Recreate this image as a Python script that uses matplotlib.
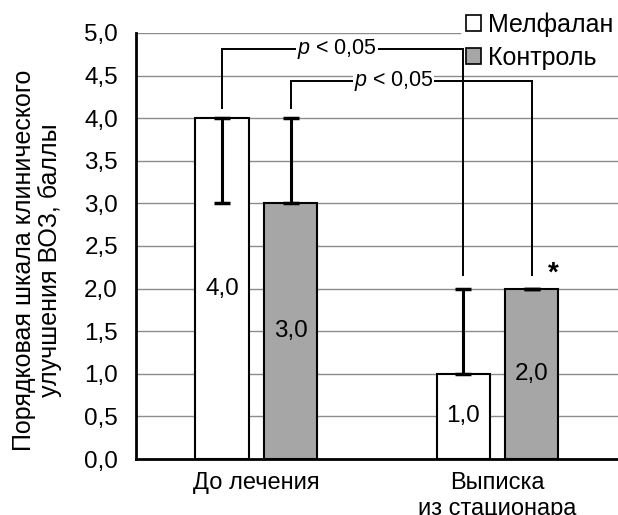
import numpy as np
import matplotlib
matplotlib.use("Agg")
import matplotlib.pyplot as plt
from matplotlib.patches import Patch

plt.rcParams['font.family'] = ['Liberation Sans', 'DejaVu Sans']
plt.rcParams['mathtext.fontset'] = 'custom'
plt.rcParams['mathtext.it'] = 'Liberation Sans:italic'
plt.rcParams['mathtext.rm'] = 'Liberation Sans'

# data
categories = ["До лечения", "Выписка\nиз стационара"]
groups = ["Мелфалан", "Контроль"]
melphalan = [4.0, 1.0]
control = [3.0, 2.0]
melphalan_err_low = [1.0, 0.0]
melphalan_err_high = [0.0, 1.0]
control_err_low = [0.0, 0.0]
control_err_high = [1.0, 0.0]
value_labels_mel = ["4,0", "1,0"]
value_labels_ctl = ["3,0", "2,0"]
yticks = [0.0, 0.5, 1.0, 1.5, 2.0, 2.5, 3.0, 3.5, 4.0, 4.5, 5.0]

FS = 17.5

fig = plt.figure(figsize=(6.18, 5.15), dpi=100)
ax = fig.add_axes([0.22, 0.1087, 0.78, 0.8273])

x = np.arange(len(categories))
w = 0.22
off = 0.143

# gridlines; the top one stops where the legend sits
for t in yticks[1:]:
    xmax = (460 - 136) / 482 if t == 5.0 else 1.0
    ax.axhline(t, xmax=xmax, color="#8c8c8c", lw=1, zorder=0)

ax.bar(x - off, melphalan, w, color="white", edgecolor="black", linewidth=1.5, zorder=3)
ax.bar(x + off, control, w, color="#a6a6a6", edgecolor="black", linewidth=1.5, zorder=3)

ax.errorbar(x - off, melphalan, yerr=[melphalan_err_low, melphalan_err_high],
            fmt="none", ecolor="black", elinewidth=2.2, capsize=5.5, capthick=2.5, zorder=4)
ax.errorbar(x + off, control, yerr=[control_err_low, control_err_high],
            fmt="none", ecolor="black", elinewidth=2.2, capsize=5.5, capthick=2.5, zorder=4)

for i in range(len(categories)):
    ax.text(x[i] - off, melphalan[i] / 2, value_labels_mel[i], ha="center", va="center",
            fontsize=FS, zorder=5)
    ax.text(x[i] + off, control[i] / 2, value_labels_ctl[i], ha="center", va="center",
            fontsize=FS, zorder=5)

# significance brackets
def bracket(x1, x2, y1, y_top, y2, xt):
    ax.plot([x1, x1, x2, x2], [y1, y_top, y_top, y2], color="black", lw=1.4, zorder=5,
            solid_joinstyle="miter")
    ax.text(xt, y_top, "$p$ < 0,05", ha="center", va="center", fontsize=15.5, zorder=6,
            bbox=dict(facecolor="white", edgecolor="none", pad=0.5))

bracket(x[0] - off, x[1] - off, 4.12, 4.81, 2.16, 0.334)
bracket(x[0] + off, x[1] + off, 4.12, 4.44, 2.16, 0.57)

ax.text(x[1] + off + 0.09, 2.17, "*", ha="center", va="center", fontsize=20,
        fontweight="bold", zorder=6)

ax.set_xlim(-0.5, 1.5)
ax.set_ylim(0, 5.0)
ax.set_yticks(yticks)
ax.set_yticklabels([f"{t:.1f}".replace(".", ",") for t in yticks], fontsize=FS)
ax.set_xticks(x)
ax.set_xticklabels(categories, fontsize=17, linespacing=1.25)
ax.tick_params(axis="both", length=0)
ax.tick_params(axis="x", pad=9)
ax.tick_params(axis="y", pad=13)
for s in ["right", "top"]:
    ax.spines[s].set_visible(False)
ax.spines["bottom"].set_linewidth(2)
ax.spines["left"].set_linewidth(2)
ax.spines["bottom"].set_zorder(6)

fig.text(37 / 618, 1 - 260 / 515, "Порядковая шкала клинического\nулучшения ВОЗ, баллы",
         fontsize=18, rotation=90, ha="center", va="center", linespacing=1.15,
         multialignment="center")

handles = [Patch(facecolor="white", edgecolor="black", lw=1.2),
           Patch(facecolor="#a6a6a6", edgecolor="black", lw=1.2)]
leg = fig.legend(handles, groups, loc="upper right", bbox_to_anchor=(1.0, 0.985),
                 fontsize=18, frameon=False, handlelength=0.6, handleheight=0.6,
                 handletextpad=0.25, labelspacing=0.35, borderpad=0.2, borderaxespad=0.0)

fig.savefig("out.png", dpi=100)
